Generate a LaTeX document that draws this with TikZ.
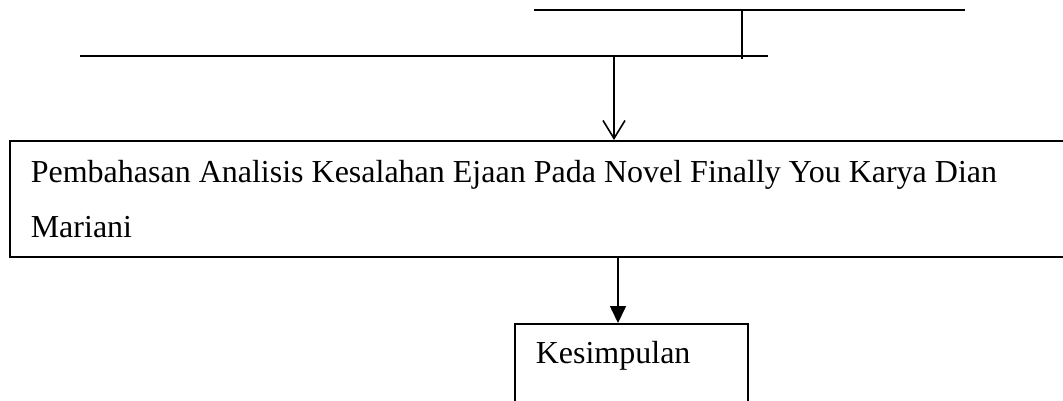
\documentclass[tikz,border=0pt]{standalone}
\usepackage{fontspec}
\setmainfont{Liberation Serif}
\usetikzlibrary{arrows.meta}

\begin{document}
\begin{tikzpicture}[x=1pt,y=-1pt,line width=1.6pt,every node/.style={inner sep=0pt, font=\fontsize{32}{55}\selectfont}]
            \useasboundingbox (0,0) rectangle (1063,400);

            % lines at the top
            \coordinate (a1) at (534,10);
            \coordinate (a2) at (965,10);
            \coordinate (a3) at (742,10);
            \coordinate (a4) at (742,59);
            \coordinate (b1) at (80,56);
            \coordinate (b2) at (768,56);
            \coordinate (b3) at (614,56);

            \draw (a1) -- (a2);
            \draw (a3) -- (a4);
            \draw (b1) -- (b2);

            \node (bahas) at (9,140) [draw, anchor=north west, minimum width=1061pt, minimum height=116pt, text width=1019pt, align=flush left]
                {Pembahasan Analisis Kesalahan Ejaan Pada Novel Finally You Karya Dian\\Mariani};

            \draw[-{Straight Barb[length=18pt,width=22pt]}] (b3) -- (b3 |- bahas.north);

            \node (simpul) at (514,323) [draw, anchor=north west, inner xsep=21pt, inner ysep=17pt, text width=191pt, text depth=50pt, align=flush left]
                {Kesimpulan};

            \coordinate (c1) at (618,256);
            \draw[-{Triangle[length=17pt,width=16pt]}] (c1) -- (c1 |- simpul.north);
        \end{tikzpicture}
\end{document}
